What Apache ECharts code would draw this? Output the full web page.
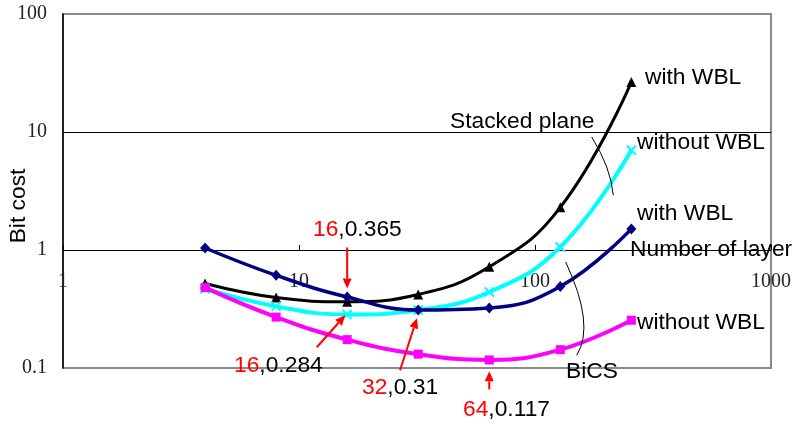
<!DOCTYPE html>
<html>
<head>
<meta charset="utf-8">
<script src="https://cdn.jsdelivr.net/npm/echarts@6/dist/echarts.min.js"></script>
<style>
  html, body { margin: 0; padding: 0; background: #fff; }
  #chart { width: 795px; height: 425px; }
</style>
</head>
<body>
<div id="chart"></div>
<script>
// Number of stacked layers (x) and bit cost (y) for each structure
const layers = [4, 8, 16, 32, 64, 128, 256];
const stackedWithWBL = [0.52, 0.395, 0.365, 0.42, 0.72, 2.3, 26.5];
const stackedWithoutWBL = [0.47, 0.333, 0.284, 0.31, 0.44, 1.06, 7.0];
const bicsWithWBL = [1.04, 0.61, 0.40, 0.31, 0.323, 0.49, 1.51];
const bicsWithoutWBL = [0.48, 0.27, 0.174, 0.131, 0.117, 0.143, 0.254];

const yTickLabels = ['0.1', '1', '10', '100'];
const xTickLabels = ['1', '10', '100', '1000'];

// Minimum-cost callouts: [layers, cost], arrow tail and arrow tip in data units
const callouts = [
  { n: 16, cost: 0.365, tail: [16, 1.05], tip: [16, 0.471] },
  { n: 16, cost: 0.284, tail: [11.9, 0.150], tip: [15.7, 0.280] },
  { n: 32, cost: 0.31, tail: [26.8, 0.0957], tip: [31.6, 0.264] },
  { n: 64, cost: 0.117, tail: [64, 0.066], tip: [64, 0.0938] }
];
const calloutTextPos = [[313, 230], [234, 366], [362, 388], [463, 410]];

// Brace arcs grouping the two curves of each structure (start, control, end in data units)
const braces = [
  [[173.9, 9.07], [209.7, 4.97], [214.7, 2.91]],
  [[134.9, 0.791], [180.3, 0.230], [150.2, 0.128]]
];

const pair = (xs, ys) => xs.map((x, i) => [x, ys[i]]);
const SANS = '"Liberation Sans", Arial, sans-serif';
const SERIF = '"Liberation Serif", "Times New Roman", serif';
const TEXT_SIZE = 22.8;

const chart = echarts.init(document.getElementById('chart'), null, { renderer: 'canvas' });

const crossSymbol = 'path://M0,0L10,10M10,0L0,10';

function lineSeries(name, data, color, width, symbol, size, extra) {
  return Object.assign({
    name: name,
    type: 'line',
    xAxisIndex: 0,
    yAxisIndex: 0,
    data: data,
    smooth: 0.45,
    symbol: symbol,
    symbolSize: size,
    showAllSymbol: true,
    lineStyle: { color: color, width: width },
    itemStyle: { color: color },
    emphasis: { disabled: true },
    z: 5
  }, extra || {});
}

chart.setOption({
  animation: false,
  backgroundColor: '#ffffff',
  grid: [
    { left: 63, top: 14, width: 708, height: 354, show: true, borderColor: '#8a8a8a', borderWidth: 2, backgroundColor: 'transparent' },
    { left: 63, top: 14, width: 708, height: 236, show: false }
  ],
  xAxis: [
    { type: 'log', logBase: 10, min: 1, max: 1000, gridIndex: 0, show: false },
    {
      type: 'log', logBase: 10, min: 1, max: 1000, gridIndex: 1,
      axisLine: { show: true, lineStyle: { color: '#000', width: 1 } },
      axisTick: { show: true, inside: true, length: 5, lineStyle: { color: '#000', width: 1 } },
      splitLine: { show: false },
      axisLabel: {
        show: true, margin: 22, color: '#222', fontFamily: SERIF, fontSize: 20,
        showMinLabel: true, showMaxLabel: true,
        formatter: (v) => xTickLabels[Math.round(Math.log10(v))]
      }
    }
  ],
  yAxis: [
    {
      type: 'log', logBase: 10, min: 0.1, max: 100, gridIndex: 0,
      axisLine: { show: true, lineStyle: { color: '#000', width: 1.5 } },
      axisTick: { show: false },
      splitLine: { show: true, lineStyle: { color: ['#8a8a8a', '#000', '#000', '#8a8a8a'], width: 1 } },
      axisLabel: {
        show: true, margin: 16, color: '#222', fontFamily: SERIF, fontSize: 20,
        formatter: (v) => yTickLabels[Math.round(Math.log10(v)) + 1]
      }
    },
    { type: 'value', gridIndex: 1, min: 0, max: 1, show: false }
  ],
  series: [
    lineSeries('Stacked plane with WBL', pair(layers, stackedWithWBL), '#000000', 3, 'triangle', 10),
    lineSeries('Stacked plane without WBL', pair(layers, stackedWithoutWBL), '#00ffff', 4, crossSymbol, 9,
      { itemStyle: { color: '#00ffff', borderColor: '#00ffff', borderWidth: 2 } }),
    lineSeries('BiCS with WBL', pair(layers, bicsWithWBL), '#000080', 3.5, 'diamond', [10, 11]),
    lineSeries('BiCS without WBL', pair(layers, bicsWithoutWBL), '#ff00ff', 4, 'rect', 9)
  ]
});

// Annotations: callout arrows, labels and brace arcs
const toPx = (p) => chart.convertToPixel({ xAxisIndex: 0, yAxisIndex: 0 }, p);
const graphics = [];

function arrow(from, to) {
  const a = toPx(from), b = toPx(to);
  const ang = Math.atan2(b[1] - a[1], b[0] - a[0]);
  const hl = 10, hw = 4.5;
  const bx = b[0] - hl * Math.cos(ang), by = b[1] - hl * Math.sin(ang);
  const nx = -Math.sin(ang) * hw, ny = Math.cos(ang) * hw;
  graphics.push({
    type: 'line', silent: true, z: 20,
    shape: { x1: a[0], y1: a[1], x2: bx, y2: by },
    style: { stroke: '#ff0000', lineWidth: 2 }
  });
  graphics.push({
    type: 'polygon', silent: true, z: 20,
    shape: { points: [[b[0], b[1]], [bx + nx, by + ny], [bx - nx, by - ny]] },
    style: { fill: '#ff0000' }
  });
}

function label(text, x, y, extra) {
  graphics.push(Object.assign({
    type: 'text', silent: true, z: 20, x: x, y: y,
    style: Object.assign({
      text: text, fill: '#000', fontFamily: SANS, fontSize: TEXT_SIZE,
      align: 'left', verticalAlign: 'middle'
    }, extra || {})
  }));
}

callouts.forEach((c, i) => {
  arrow(c.tail, c.tip);
  const pos = calloutTextPos[i];
  label('{r|' + c.n + '},' + c.cost, pos[0], pos[1], {
    rich: { r: { fill: '#ff0000', fontFamily: SANS, fontSize: TEXT_SIZE } }
  });
});

braces.forEach((b) => {
  const p0 = toPx(b[0]), c = toPx(b[1]), p1 = toPx(b[2]);
  graphics.push({
    type: 'bezierCurve', silent: true, z: 20,
    shape: { x1: p0[0], y1: p0[1], cpx1: c[0], cpy1: c[1], x2: p1[0], y2: p1[1] },
    style: { stroke: '#000', lineWidth: 1, fill: null }
  });
});

label('with WBL', 645, 78);
label('Stacked plane', 450, 122);
label('without WBL', 637, 143);
label('with WBL', 637, 214);
label('Number of layer', 630, 250);
label('without WBL', 637, 323);
label('BiCS', 566, 372);

graphics.push({
  type: 'text', silent: true, z: 20, x: 19, y: 206, rotation: Math.PI / 2,
  style: { text: 'Bit cost', fill: '#000', fontFamily: SANS, fontSize: TEXT_SIZE, align: 'center', verticalAlign: 'middle' }
});

chart.setOption({ graphic: graphics });
</script>
</body>
</html>
